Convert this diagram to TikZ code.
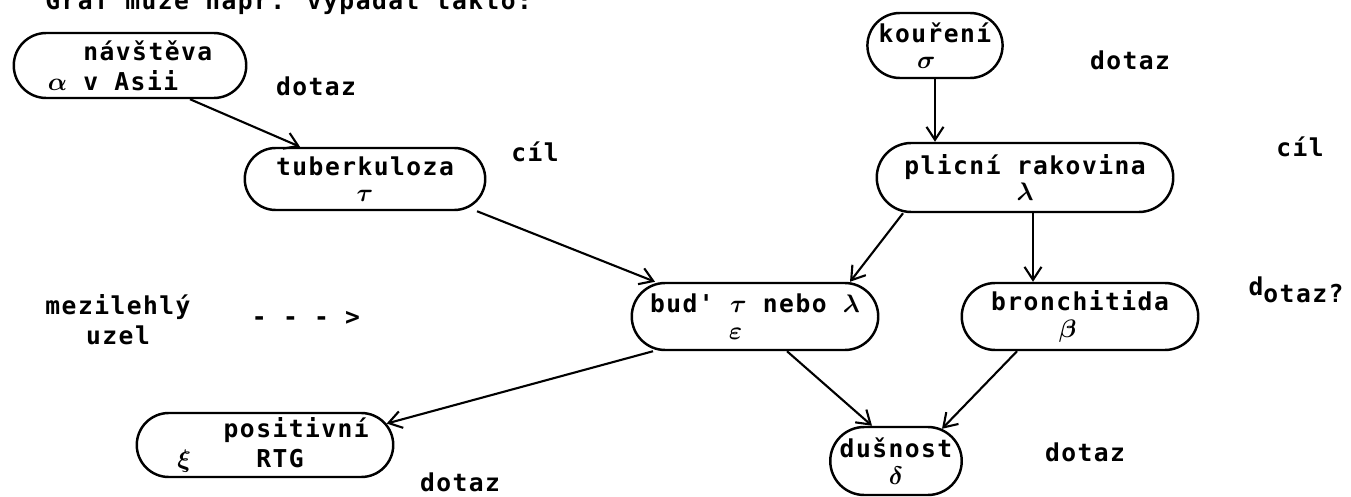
\documentclass[tikz,border=0pt]{standalone}
\usepackage{amsmath, amssymb}
\usepackage{fontspec}
\newfontfamily\tisk[LetterSpace=6]{DejaVu Sans Mono}
\usetikzlibrary{arrows.meta, positioning, shapes.misc}

% greek marks under the node names
\newcommand{\gr}[1]{{\Large$\boldsymbol{#1}$}}

\begin{document}
\begin{tikzpicture}[
  font=\tisk\bfseries\fontsize{14}{17}\selectfont,
  box/.style={draw, line width=1.4pt, rounded rectangle, inner sep=1pt, align=center},
  arr/.style={line width=1.2pt, -{Straight Barb[length=2.6mm, width=3.4mm, line width=1.2pt]}},
  lbl/.style={align=center, inner sep=0pt}
]
  \useasboundingbox (0,0) rectangle (27.02,9.92);

  \node[lbl, anchor=base west] (uvod) at (0.9,9.72) {Graf může např. vypadat takto:};

  % nodes of the network
  \node[box, minimum width=4.72cm, minimum height=1.30cm, align=left] (asie) at (2.60,8.61)
    {\hphantom{\gr{\alpha}}~návštěva\\\gr{\alpha}~v Asii};
  \node[box, minimum width=2.70cm, minimum height=1.30cm] (koureni) at (18.70,9.01) {kouření\\[-2pt]\hspace*{-10pt}\gr{\sigma}};
  \node[box, minimum width=4.88cm, minimum height=1.24cm] (tbc) at (7.30,6.34) {tuberkuloza\\[-2pt]\gr{\tau}};
  \node[box, minimum width=6.00cm, minimum height=1.38cm] (rakovina) at (20.50,6.37) {plicní rakovina\\[-2pt]\gr{\lambda}};
  \node[box, minimum width=5.00cm, minimum height=1.34cm] (bud) at (15.10,3.59)
    {bud' \gr{\tau} nebo \gr{\lambda}\\[-2pt]\hspace*{-22pt}\gr{\varepsilon}};
  \node[box, minimum width=4.80cm, minimum height=1.34cm] (bronch) at (21.60,3.59) {bronchitida\\[-2pt]\hspace*{-14pt}\gr{\beta}};
  \node[box, minimum width=5.20cm, minimum height=1.28cm, align=left] (rtg) at (5.30,1.02)
    {\hphantom{\gr{\xi}}~~~positivní\\~\gr{\xi}~~~~RTG};
  \node[box, minimum width=2.70cm, minimum height=1.36cm] (dusnost) at (17.92,0.70) {dušnost\\[-2pt]\gr{\delta}};

  % side labels
  \node[lbl] (d1) at (6.32,8.20) {dotaz};
  \node[lbl] (c1) at (10.70,6.88) {cíl};
  \node[lbl] (d2) at (22.60,8.72) {dotaz};
  \node[lbl] (c2) at (26.00,6.98) {cíl};
  \node[lbl] (d3) at (25.92,4.12) {\raisebox{4pt}{d}otaz?};
  \node[lbl] (mezi) at (2.36,3.52) {mezilehlý\\uzel};
  \node[lbl] (sipka) at (6.12,3.56) {- - - >};
  \node[lbl] (d4) at (9.20,0.28) {dotaz};
  \node[lbl] (d5) at (21.70,0.88) {dotaz};

  % edges
  \draw[arr] ([xshift=1.2cm]asie.south) -- ([xshift=-1.3cm]tbc.north);
  \draw[arr] (koureni.south) -- (koureni.south |- rakovina.north);
  \draw[arr] ([xshift=2.24cm]tbc.south) -- ([xshift=-2.0cm]bud.north);
  \draw[arr] ([xshift=-2.44cm]rakovina.south) -- ([xshift=1.9cm]bud.north);
  \draw[arr] ([xshift=0.16cm]rakovina.south) -- ([xshift=0.16cm]rakovina.south |- bronch.north);
  \draw[arr] ([xshift=-2.04cm]bud.south) -- (rtg.10);
  \draw[arr] ([xshift=0.64cm]bud.south) -- ([xshift=-0.48cm]dusnost.north);
  \draw[arr] ([xshift=-1.26cm]bronch.south) -- (dusnost.35);
\end{tikzpicture}
\end{document}
